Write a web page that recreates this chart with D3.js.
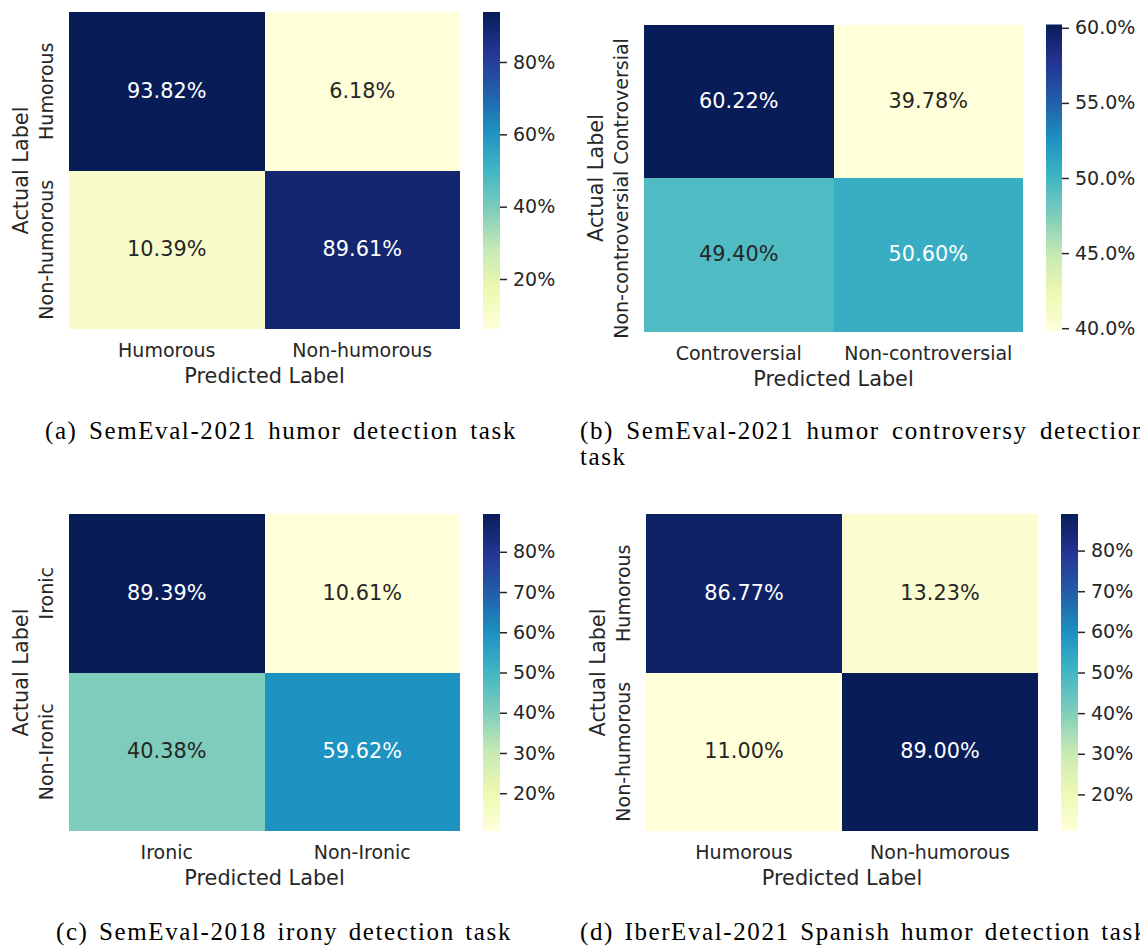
<!DOCTYPE html>
<html>
<head>
<meta charset="utf-8">
<script src="https://cdn.jsdelivr.net/npm/d3@7"></script>
<style>
  html, body { margin: 0; padding: 0; background: #fff; }
  svg { display: block; }
</style>
</head>
<body>
<svg id="fig" width="1140" height="946"></svg>
<script>
// Confusion matrices: rows = actual label, columns = predicted label (percent)
const humorLabels = ["Humorous", "Non-humorous"];
const humorValues = [[93.82, 6.18], [10.39, 89.61]];
const humorTicks = [20, 40, 60, 80];

const controversyLabels = ["Controversial", "Non-controversial"];
const controversyValues = [[60.22, 39.78], [49.40, 50.60]];
const controversyTicks = [40, 45, 50, 55, 60];

const ironyLabels = ["Ironic", "Non-Ironic"];
const ironyValues = [[89.39, 10.61], [40.38, 59.62]];
const ironyTicks = [20, 30, 40, 50, 60, 70, 80];

const spanishLabels = ["Humorous", "Non-humorous"];
const spanishValues = [[86.77, 13.23], [11.00, 89.00]];
const spanishTicks = [20, 30, 40, 50, 60, 70, 80];

const captionA = "(a) SemEval-2021 humor detection task";
const captionB1 = "(b) SemEval-2021 humor controversy detection";
const captionB2 = "task";
const captionC = "(c) SemEval-2018 irony detection task";
const captionD = "(d) IberEval-2021 Spanish humor detection task";

// Layout of the four sub-figures
const panels = [
  { labels: humorLabels, values: humorValues, ticks: humorTicks, fmt: "d",
    x0: 69, x1: 460, y0: 12, y1: 329, cb0: 483, cb1: 500 },
  { labels: controversyLabels, values: controversyValues, ticks: controversyTicks, fmt: ".1f",
    x0: 644, x1: 1023, y0: 24.5, y1: 331.5, cb0: 1046, cb1: 1062 },
  { labels: ironyLabels, values: ironyValues, ticks: ironyTicks, fmt: "d",
    x0: 69, x1: 460, y0: 514, y1: 831, cb0: 483, cb1: 500 },
  { labels: spanishLabels, values: spanishValues, ticks: spanishTicks, fmt: "d",
    x0: 646, x1: 1038, y0: 514, y1: 831, cb0: 1061, cb1: 1078 }
];

const captions = [
  { text: captionA, x: 45, y: 439, right: 517 },
  { text: captionB1, x: 580, y: 439, right: 1146 },
  { text: captionB2, x: 580, y: 465, right: null },
  { text: captionC, x: 56, y: 940, right: 512 },
  { text: captionD, x: 580, y: 940, right: 1148 }
];

const SANS = "'DejaVu Sans', sans-serif";
const SERIF = "'Liberation Serif', 'Times New Roman', serif";
const INK = "#262626";

const svg = d3.select("#fig");
const defs = svg.append("defs");

// Relative luminance used to pick the annotation colour
function relLum(c) {
  const rgb = d3.rgb(c);
  const lin = v => { v /= 255; return v <= 0.03928 ? v / 12.92 : Math.pow((v + 0.055) / 1.055, 2.4); };
  return 0.2126 * lin(rgb.r) + 0.7152 * lin(rgb.g) + 0.0722 * lin(rgb.b);
}

function drawPanel(p, i) {
  const g = svg.append("g");
  const x = d3.scaleBand().domain(p.labels).range([p.x0, p.x1]);
  const y = d3.scaleBand().domain(p.labels).range([p.y0, p.y1]);

  const flat = p.values.flat();
  const vmin = d3.min(flat), vmax = d3.max(flat);
  const stops = d3.schemeYlGnBu[9];
  const color = d3.scaleLinear()
    .domain(stops.map((_, k) => vmin + k * (vmax - vmin) / (stops.length - 1)))
    .range(stops)
    .interpolate(d3.interpolateRgb);

  const cells = p.values.flatMap((row, r) =>
    row.map((v, c) => ({ row: p.labels[r], col: p.labels[c], v })));

  g.selectAll("rect.cell").data(cells).join("rect")
    .attr("class", "cell")
    .attr("x", d => x(d.col))
    .attr("y", d => y(d.row))
    .attr("width", x.bandwidth())
    .attr("height", y.bandwidth())
    .attr("fill", d => color(d.v))
    .attr("shape-rendering", "crispEdges");

  g.selectAll("text.annot").data(cells).join("text")
    .attr("class", "annot")
    .attr("x", d => x(d.col) + x.bandwidth() / 2)
    .attr("y", d => y(d.row) + y.bandwidth() / 2)
    .attr("dy", "0.31em")
    .attr("text-anchor", "middle")
    .style("font-family", SANS)
    .style("font-size", "20.8px")
    .attr("fill", d => relLum(color(d.v)) > 0.408 ? INK : "#ffffff")
    .text(d => d3.format(".2f")(d.v) + "%");

  // Predicted-label axis
  const xa = g.append("g")
    .attr("transform", `translate(0,${p.y1})`)
    .call(d3.axisBottom(x).tickSize(0).tickPadding(15));
  xa.select(".domain").remove();
  xa.selectAll("text").style("font-family", SANS).style("font-size", "19px").attr("fill", INK);

  // Actual-label axis, labels rotated
  const ya = g.append("g")
    .attr("transform", `translate(${p.x0},0)`)
    .call(d3.axisLeft(y).tickSize(0));
  ya.select(".domain").remove();
  ya.selectAll("text")
    .attr("x", 0).attr("y", -16).attr("dy", null)
    .attr("text-anchor", "middle")
    .attr("transform", "rotate(-90)")
    .style("font-family", SANS).style("font-size", "19px").attr("fill", INK);

  g.append("text")
    .attr("x", (p.x0 + p.x1) / 2)
    .attr("y", p.y1 + 54)
    .attr("text-anchor", "middle")
    .style("font-family", SANS).style("font-size", "20.8px").attr("fill", INK)
    .text("Predicted Label");

  g.append("text")
    .attr("transform", `translate(${p.x0 - 41},${(p.y0 + p.y1) / 2}) rotate(-90)`)
    .attr("text-anchor", "middle")
    .style("font-family", SANS).style("font-size", "20.8px").attr("fill", INK)
    .text("Actual Label");

  // Colour bar
  const gid = "cbar" + i;
  const grad = defs.append("linearGradient").attr("id", gid)
    .attr("x1", 0).attr("y1", 1).attr("x2", 0).attr("y2", 0);
  grad.selectAll("stop").data(stops).join("stop")
    .attr("offset", (_, k) => k / (stops.length - 1))
    .attr("stop-color", d => d);

  g.append("rect")
    .attr("x", p.cb0).attr("y", p.y0)
    .attr("width", p.cb1 - p.cb0).attr("height", p.y1 - p.y0)
    .attr("fill", `url(#${gid})`);

  const cy = d3.scaleLinear().domain([vmin, vmax]).range([p.y1, p.y0]);
  const ca = g.append("g")
    .attr("transform", `translate(${p.cb1},0)`)
    .call(d3.axisRight(cy).tickValues(p.ticks).tickSize(7).tickPadding(6)
      .tickFormat(v => d3.format(p.fmt)(v) + "%"));
  ca.select(".domain").remove();
  ca.selectAll("line").attr("stroke", INK).attr("stroke-width", 1.5);
  ca.selectAll("text").style("font-family", SANS).style("font-size", "19px").attr("fill", INK);
}

panels.forEach(drawPanel);

// Sub-figure captions; words spread across the line width
captions.forEach(c => {
  const t = svg.append("text")
    .attr("y", c.y)
    .style("font-family", SERIF)
    .style("font-size", "25px")
    .style("letter-spacing", "1.6px")
    .attr("fill", "#000");
  const words = c.text.split(" ");
  const spans = words.map(w => t.append("tspan").text(w));
  const widths = spans.map(s => s.node().getComputedTextLength());
  const total = d3.sum(widths);
  const gap = (c.right != null && words.length > 1)
    ? (c.right - c.x - total) / (words.length - 1)
    : 10;
  let cx = c.x;
  spans.forEach((s, k) => { s.attr("x", cx); cx += widths[k] + gap; });
});
</script>
</body>
</html>
